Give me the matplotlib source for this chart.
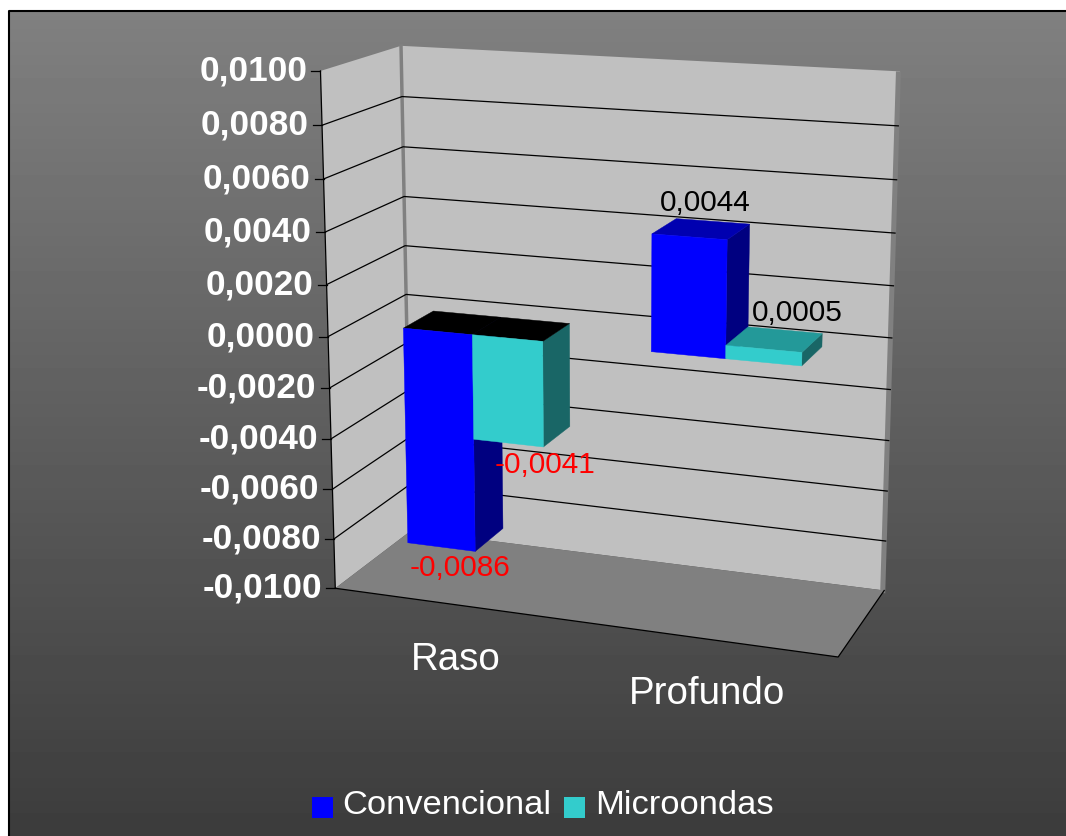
import numpy as np
import matplotlib
matplotlib.use('Agg')
import matplotlib.pyplot as plt
import matplotlib.patches as patches

plt.rcParams['font.family'] = ['Liberation Sans', 'DejaVu Sans']

# donnees
categorias = ['Raso', 'Profundo']
convencional = [-0.0086, 0.0044]
microondas = [-0.0041, 0.0005]
series_nomes = ['Convencional', 'Microondas']
ticks = [0.01, 0.008, 0.006, 0.004, 0.002, 0.0, -0.002, -0.004, -0.006, -0.008, -0.01]

VMIN, VMAX = -0.01, 0.01


def calibrar():
    # repere pixels de la boite 3D: (u, valeur normalisee, profondeur) -> (x, y)
    front = [70, 125, 179, 232, 285, 338, 389, 439, 488, 540, 586]
    back_l = [47, 97, 147, 196, 245, 293, 341, 389, 438, 487, 535]
    back_r = [72, 127, 180, 233, 285, 338, 389, 440, 490, 540, 589]
    pts = []
    for i, (yf, yl, yr) in enumerate(zip(front, back_l, back_r)):
        t = i / 10
        # la face avant compte davantage, les barres en sont proches
        pts += [(0, 1 - t, 0, 320 + 16 * t, yf)] * 4
        pts.append((0, 1 - t, 1, 404 + 4 * t, yl))
        pts.append((1, 1 - t, 1, 899 - 14 * t, yr))
    pts += [(1, 0, 0, 838, 658)] * 4
    A = []
    b = []
    for u, v, d, x, y in pts:
        A.append([u, v, d, 1, 0, 0, 0, 0, -x * u, -x * v, -x * d])
        A.append([0, 0, 0, 0, u, v, d, 1, -y * u, -y * v, -y * d])
        b += [x, y]
    m = np.linalg.lstsq(np.array(A, float), np.array(b, float), rcond=None)[0]
    return np.append(m, 1).reshape(3, 4)


M = calibrar()


def proj(u, val, d):
    v = (val - VMIN) / (VMAX - VMIN)
    p = M @ np.array([u, v, d, 1.0])
    return p[0] / p[2], p[1] / p[2]


def face(ax, coins, couleur):
    ax.add_patch(patches.Polygon([proj(*k) for k in coins], closed=True, facecolor=couleur,
                                 edgecolor=couleur, linewidth=0.3, zorder=4))


def bar3d(ax, u0, u1, val, front, side, top):
    d0, d1 = 0.3, 0.7
    haut = max(val, 0.0)
    bas = min(val, 0.0)
    face(ax, [(u1, haut, d0), (u1, haut, d1), (u1, bas, d1), (u1, bas, d0)], side)
    face(ax, [(u0, haut, d0), (u0, haut, d1), (u1, haut, d1), (u1, haut, d0)], top if val > 0 else 'black')
    face(ax, [(u0, haut, d0), (u1, haut, d0), (u1, bas, d0), (u0, bas, d0)], front)


fig = plt.figure(figsize=(10.66, 8.36), dpi=100)
ax = fig.add_axes([0, 0, 1, 1])
ax.axis('off')

# fond degrade
fond = np.linspace(128, 60, 256).reshape(-1, 1) / 255
ax.imshow(fond, cmap='gray', vmin=0, vmax=1, extent=[9, 1066, 836, 10], aspect='auto', zorder=0)
ax.set_xlim(0, 1066)
ax.set_ylim(836, 0)
ax.plot([9, 9, 1066], [836, 10.5, 10.5], color='black', lw=1.5, zorder=1)

# parois et sol
mur = '#c0c0c0'
ax.add_patch(patches.Polygon([proj(0, VMAX, 0), proj(0, VMAX, 1), proj(0, VMIN, 1), proj(0, VMIN, 0)], facecolor=mur, edgecolor='none'))
ax.add_patch(patches.Polygon([proj(0, VMAX, 1), proj(1, VMAX, 1), proj(1, VMIN, 1), proj(0, VMIN, 1)], facecolor=mur, edgecolor='none'))
ax.add_patch(patches.Polygon([proj(0, VMIN, 0), proj(0, VMIN, 1), proj(1, VMIN, 1), proj(1, VMIN, 0)], facecolor='#808080', edgecolor='none'))

# epaisseur des parois
xb, yb = proj(1, VMIN, 1)
xh, yh = proj(1, VMAX, 1)
ax.add_patch(patches.Polygon([(xh - 4, yh), (xh + 1, yh), (xb + 1, yb + 3), (xb - 4, yb + 1)], facecolor='#808080', edgecolor='none'))
ax.plot(*zip(proj(0, VMAX, 1), proj(0, VMIN, 1)), color='#808080', lw=2.5, zorder=2)

# grille et graduations
for val in ticks:
    if VMIN < val < VMAX:
        ax.plot(*zip(proj(0, val, 0), proj(0, val, 1), proj(1, val, 1)), color='black', lw=0.9, zorder=2)
    x, y = proj(0, val, 0)
    ax.plot([x - 9, x], [y, y], color='black', lw=0.9, zorder=2)
    texte = f'{val:.4f}'.replace('.', ',')
    if val == 0:
        texte = '0,0000'
    ax.text(x - 13, y, texte, ha='right', va='center', fontsize=25.3, fontweight='bold', color='white', zorder=6)
ax.plot(*zip(proj(0, VMAX, 0), proj(0, VMIN, 0)), color='black', lw=0.9, zorder=2)
ax.plot(*zip(proj(0, VMIN, 0), proj(1, VMIN, 0), proj(1, VMIN, 1)), color='black', lw=0.9, zorder=2)

# barres
largeur = 0.5 / 3.5
marge = 0.75 * largeur
couleurs = [('#0000ff', '#000080', '#0000b0'), ('#33cccc', '#196666', '#239999')]
decalage = [4, 23]
for i, cat in enumerate(categorias):
    u0 = i * 0.5 + marge
    for j, valeurs in enumerate([convencional, microondas]):
        val = valeurs[i]
        debut = u0 + j * largeur
        bar3d(ax, debut, debut + largeur, val, *couleurs[j])
        x, y = proj(debut + largeur / 2, val, 0.5)
        dy = -26 if val > 0 else 32
        ax.text(x + decalage[j], y + dy, f'{val:.4f}'.replace('.', ','), ha='center', va='center', fontsize=21.5,
                color='black' if val > 0 else 'red', zorder=6)
    x, y = proj((i + 0.5) * 0.5, VMIN, 0)
    ax.text(x + 2, y + 55, cat, ha='center', va='center', fontsize=27.7, color='white', zorder=6)

# legende
for nom, xc, xt, c in zip(series_nomes, [312, 564], [342, 595], couleurs):
    ax.add_patch(patches.Rectangle((xc, 797), 21, 21, facecolor=c[0], edgecolor='none', zorder=6))
    ax.text(xt, 805, nom, ha='left', va='center', fontsize=24.8, color='white', zorder=6)

fig.savefig('out.png', dpi=100, facecolor='white')
